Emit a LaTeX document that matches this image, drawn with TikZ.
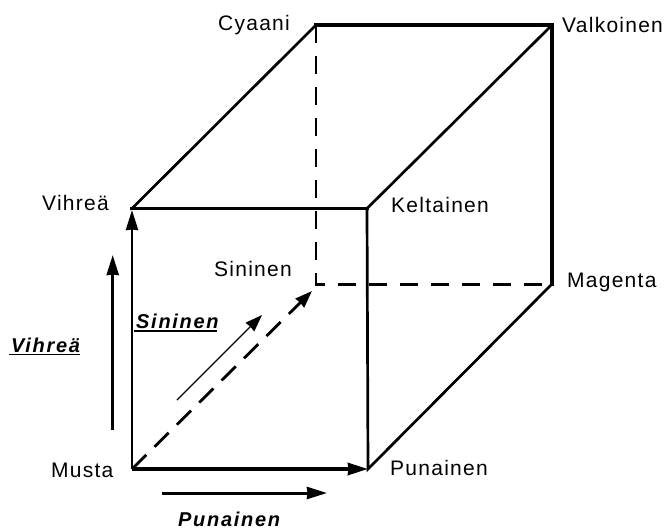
\documentclass[tikz,border=0pt]{standalone}
\usepackage{fontspec}
\setmainfont{Liberation Sans}
\usetikzlibrary{arrows.meta}
\tikzset{thick edge/.style={line width=3.5pt},thin edge/.style={line width=2.7pt},
hid/.style={line width=2.6pt,dash pattern=on 18pt off 13pt},
lab/.style={font=\fontsize{21}{25}\selectfont\addfontfeature{LetterSpace=6},inner sep=0pt},
blab/.style={font=\fontsize{20}{24}\selectfont\bfseries\itshape\addfontfeature{LetterSpace=8.5},inner sep=0pt},
tip/.style={-{Stealth[length=20pt,width=12pt,inset=0.5pt]}},
tipb/.style={-{Stealth[length=17pt,width=12pt,inset=0.5pt]}}}
\begin{document}
\begin{tikzpicture}[x=1pt,y=-1pt]
\useasboundingbox (0,0) rectangle (667,528);
\coordinate (K) at (132,469);
\coordinate (R) at (368,469);
\coordinate (G) at (132,208.5);
\coordinate (Gt) at (132,210);
\coordinate (Y) at (367,208.5);
\coordinate (B) at (316,284);
\coordinate (M) at (552,284);
\coordinate (C) at (316,25);
\coordinate (W) at (552,25);
\coordinate (Be) at (312,291);
\draw[thin edge,line cap=round] (G)--(C);
\draw[thin edge,line cap=round] (W)--(Y);
\draw[thin edge,line cap=round] (Y)--(R)--(M);
\draw[thick edge,line cap=rect] (C)--(W);
\draw[thick edge,line cap=rect] (G)--(Y);
\draw[line width=4pt,line cap=rect] (W)--(M);
\draw[hid] (C)--(B);
\draw[line width=3pt,dash pattern=on 18pt off 13pt,dash phase=9pt] (B)--(M);
\draw[line width=3pt] (314.8,284)--(318,284);
\draw[line width=2.8pt,dash pattern=on 20pt off 11.5pt,-{Stealth[length=17pt,width=12pt,inset=0.5pt]}] (K)--(Be);
\draw[thin edge,tip] (K)--(Gt);
\draw[thick edge,tip] (K)--(R);
\coordinate (a1) at (112.7,430); \coordinate (a2) at (112.7,255);
\draw[line width=3pt,tip] (a1)--(a2);
\coordinate (b1) at (162,493); \coordinate (b2) at (327,493);
\draw[line width=3pt,tip] (b1)--(b2);
\coordinate (c1) at (177,400); \coordinate (c2) at (262,315);
\draw[line width=1.4pt,tipb] (c1)--(c2);
\node[lab,anchor=base west] (nC) at (218,30) {Cyaani};
\node[lab,anchor=base west] (nW) at (562,32) {Valkoinen};
\node[lab,anchor=base west] (nG) at (42,210) {Vihreä};
\node[lab,anchor=base west] (nY) at (391,212) {Keltainen};
\node[lab,anchor=base west] (nB) at (214,276) {Sininen};
\node[lab,anchor=base west] (nM) at (567,287) {Magenta};
\node[lab,anchor=base west] (nK) at (51,477) {Musta};
\node[lab,anchor=base west] (nR) at (390,475) {Punainen};
\node[blab,anchor=base west] (t1) at (11,352) {Vihreä};
\node[blab,anchor=base west] (t2) at (136,328) {Sininen};
\node[blab,anchor=base west] (t3) at (178,526) {Punainen};
\draw[line width=1.4pt] (9,354.5) coordinate (u1) -- (80,354.5) coordinate (u2);
\draw[line width=1.4pt] (134,331) coordinate (u3) -- (217,331) coordinate (u4);
\end{tikzpicture}
\end{document}
